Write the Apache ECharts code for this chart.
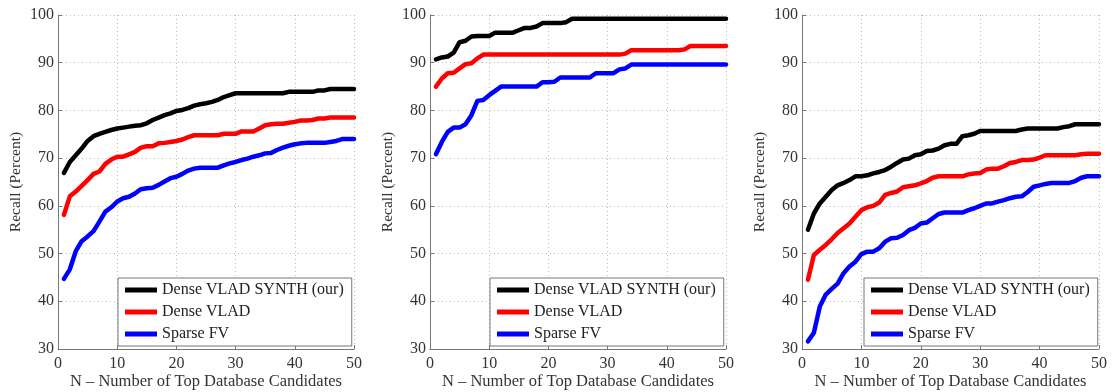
<!DOCTYPE html>
<html><head><meta charset="utf-8">
<script src="https://cdn.jsdelivr.net/npm/echarts@6/dist/echarts.min.js"></script>
<style>html,body{margin:0;padding:0;background:#fff}#c{width:1113px;height:392px}</style>
</head><body><div id="c"></div>
<script>
const N = Array.from({length:50},(_,i)=>i+1);
const seriesNames = ['Dense VLAD SYNTH (our)','Dense VLAD','Sparse FV'];
const colors = ['#000000','#ff0000','#0000ff'];
const yTicks = [30,40,50,60,70,80,90,100];
const xTicks = [0,10,20,30,40,50];

const p1_synth = [66.9,69.2,70.6,72.0,73.6,74.6,75.1,75.5,75.9,76.2,76.4,76.6,76.8,76.9,77.3,78.0,78.5,79.0,79.4,79.9,80.1,80.5,81.0,81.3,81.5,81.8,82.2,82.8,83.2,83.6,83.6,83.6,83.6,83.6,83.6,83.6,83.6,83.6,83.9,83.9,83.9,83.9,83.9,84.2,84.2,84.5,84.5,84.5,84.5,84.5];
const p1_vlad = [58.1,62.0,63.0,64.2,65.4,66.7,67.2,68.8,69.7,70.3,70.3,70.8,71.3,72.2,72.5,72.5,73.1,73.2,73.4,73.6,73.9,74.4,74.8,74.8,74.8,74.8,74.8,75.1,75.1,75.1,75.6,75.6,75.6,76.2,76.9,77.1,77.2,77.2,77.4,77.6,77.9,77.9,78.0,78.3,78.3,78.5,78.5,78.5,78.5,78.5];
const p1_fv = [44.7,46.7,50.5,52.6,53.6,54.7,56.7,58.8,59.7,60.9,61.6,61.9,62.6,63.5,63.7,63.8,64.4,65.1,65.8,66.1,66.7,67.4,67.8,68.0,68.0,68.0,68.0,68.5,68.9,69.2,69.6,69.9,70.3,70.6,71.0,71.1,71.7,72.2,72.6,72.9,73.1,73.2,73.2,73.2,73.2,73.4,73.6,74.0,74.0,74.0];

const p2_synth = [90.7,91.1,91.3,92.1,94.3,94.6,95.5,95.6,95.6,95.6,96.3,96.3,96.3,96.3,96.8,97.3,97.3,97.6,98.3,98.3,98.3,98.3,98.5,99.2,99.2,99.2,99.2,99.2,99.2,99.2,99.2,99.2,99.2,99.2,99.2,99.2,99.2,99.2,99.2,99.2,99.2,99.2,99.2,99.2,99.2,99.2,99.2,99.2,99.2,99.2];
const p2_vlad = [85.0,86.7,87.8,87.9,88.8,89.7,89.9,90.9,91.7,91.7,91.7,91.7,91.7,91.7,91.7,91.7,91.7,91.7,91.7,91.7,91.7,91.7,91.7,91.7,91.7,91.7,91.7,91.7,91.7,91.7,91.7,91.7,91.9,92.6,92.6,92.6,92.6,92.6,92.6,92.6,92.6,92.6,92.8,93.5,93.5,93.5,93.5,93.5,93.5,93.5];
const p2_fv = [70.8,73.4,75.5,76.4,76.4,77.1,79.0,82.0,82.2,83.2,84.1,85.0,85.0,85.0,85.0,85.0,85.0,85.0,85.9,85.9,86.0,86.9,86.9,86.9,86.9,86.9,86.9,87.8,87.8,87.8,87.8,88.6,88.8,89.6,89.6,89.6,89.6,89.6,89.6,89.6,89.6,89.6,89.6,89.6,89.6,89.6,89.6,89.6,89.6,89.6];

const p3_synth = [55.0,58.4,60.5,61.9,63.3,64.3,64.8,65.4,66.2,66.2,66.4,66.8,67.1,67.5,68.2,69.0,69.7,69.9,70.6,70.8,71.5,71.6,72.0,72.7,73.0,73.0,74.6,74.8,75.1,75.7,75.7,75.7,75.7,75.7,75.7,75.7,76.0,76.2,76.2,76.2,76.2,76.2,76.2,76.5,76.7,77.1,77.1,77.1,77.1,77.1];
const p3_vlad = [44.5,49.7,50.8,51.8,53.0,54.3,55.3,56.3,57.7,59.1,59.7,60.0,60.7,62.3,62.7,63.0,63.9,64.1,64.3,64.7,65.2,65.9,66.2,66.2,66.2,66.2,66.2,66.6,66.8,66.9,67.6,67.8,67.8,68.3,69.0,69.2,69.6,69.6,69.7,70.1,70.6,70.6,70.6,70.6,70.6,70.6,70.8,70.9,70.9,70.9];
const p3_fv = [31.6,33.4,38.9,41.4,42.6,43.7,45.9,47.3,48.3,49.9,50.4,50.4,51.1,52.5,53.2,53.3,53.9,54.9,55.4,56.3,56.5,57.4,58.3,58.6,58.6,58.6,58.6,59.1,59.5,60.0,60.5,60.5,60.9,61.2,61.6,61.9,62.0,62.9,64.0,64.3,64.6,64.8,64.8,64.8,64.8,65.2,65.9,66.2,66.2,66.2];

const panels = [[p1_synth,p1_vlad,p1_fv],[p2_synth,p2_vlad,p2_fv],[p3_synth,p3_vlad,p3_fv]];
const gridLefts = [58,430,802];
const gridWidths = [296,296,297];
const legendLefts = [118,490,864];

const font = 'Liberation Serif, Times New Roman, serif';
const grids=[], xAxes=[], yAxes=[], series=[], legends=[];
panels.forEach((p,gi)=>{
  grids.push({left:gridLefts[gi], top:15, width:gridWidths[gi], height:334, containLabel:false, outerBoundsMode:'none'});
  xAxes.push({type:'value', gridIndex:gi, min:xTicks[0], max:xTicks[xTicks.length-1], interval:10,
    name:'N \u2013 Number of Top Database Candidates', nameLocation:'middle', nameGap:33, nameMoveOverlap:false,
    nameTextStyle:{fontFamily:font, fontSize:16.5, color:'#333', verticalAlign:'middle'},
    axisLine:{show:true, lineStyle:{color:'#777', width:1}},
    axisTick:{show:true, inside:true, length:4, lineStyle:{color:'#777'}},
    axisLabel:{fontFamily:font, fontSize:16, color:'#333', margin:7},
    splitLine:{show:true, lineStyle:{type:[1,3], color:'#bbb', width:1}}});
  yAxes.push({type:'value', gridIndex:gi, min:yTicks[0], max:yTicks[yTicks.length-1], interval:10,
    name:'Recall (Percent)', nameLocation:'middle', nameGap:34, nameMoveOverlap:false,
    nameTextStyle:{fontFamily:font, fontSize:15.5, color:'#333'},
    axisLine:{show:true, lineStyle:{color:'#777', width:1}},
    axisTick:{show:true, inside:true, length:4, lineStyle:{color:'#777'}},
    axisLabel:{fontFamily:font, fontSize:16, color:'#333', margin:4},
    splitLine:{show:true, lineStyle:{type:[1,3], color:'#bbb', width:1}}});
  p.forEach((vals,si)=>{
    series.push({type:'line', name:seriesNames[si], xAxisIndex:gi, yAxisIndex:gi,
      data:N.map((n,i)=>[n,vals[i]]), showSymbol:false, symbol:'none', z:3-si+2,
      lineStyle:{color:colors[si], width:4.5, join:'round', cap:'round'}, itemStyle:{color:colors[si]}});
  });
  legends.push({left:legendLefts[gi], top:278, orient:'vertical', data:seriesNames,
    icon:'rect', itemWidth:32, itemHeight:5, itemGap:4,
    padding:[3,8,3,7], backgroundColor:'#fff', borderColor:'#777', borderWidth:1,
    textStyle:{fontFamily:font, fontSize:16, color:'#222', lineHeight:18}, selectedMode:false});
});

const chart = echarts.init(document.getElementById('c'), null, {renderer:'canvas'});
chart.setOption({animation:false, backgroundColor:'#fff', grid:grids, xAxis:xAxes, yAxis:yAxes, series:series, legend:legends});
</script></body></html>
